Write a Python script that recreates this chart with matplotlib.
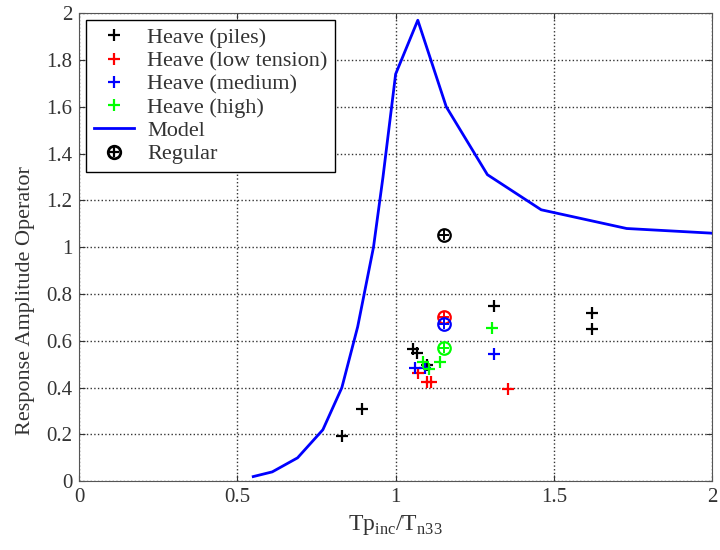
import numpy as np
import matplotlib.pyplot as plt
from matplotlib.lines import Line2D

plt.rcParams['font.family'] = ['Liberation Serif', 'DejaVu Serif']
plt.rcParams['mathtext.fontset'] = 'custom'
plt.rcParams['mathtext.rm'] = 'Liberation Serif'

# heave RAO measurements, by mooring configuration
piles_x = [0.832, 0.895, 1.056, 1.067, 1.100, 1.312, 1.620, 1.620]
piles_y = [0.192, 0.308, 0.563, 0.546, 0.496, 0.749, 0.717, 0.649]

low_x = [1.072, 1.098, 1.111, 1.356]
low_y = [0.461, 0.425, 0.425, 0.393]

med_x = [1.062, 1.093, 1.312]
med_y = [0.486, 0.485, 0.543]

high_x = [1.086, 1.107, 1.141, 1.306]
high_y = [0.510, 0.478, 0.508, 0.656]

# regular wave tests (piles, low tension, medium, high)
reg_x = [1.154, 1.154, 1.154, 1.154]
reg_y = [1.052, 0.703, 0.670, 0.570]
reg_colors = ['black', 'red', 'blue', 'lime']

# numerical model
model_x = [0.55, 0.61, 0.69, 0.77, 0.83, 0.88, 0.93, 0.96, 1.00, 1.07,
           1.16, 1.29, 1.46, 1.73, 2.00]
model_y = [0.02, 0.04, 0.10, 0.22, 0.40, 0.66, 1.00, 1.30, 1.74, 1.97,
           1.60, 1.31, 1.16, 1.08, 1.06]

fig = plt.figure(figsize=(7.2, 5.5), dpi=100)
ax = fig.add_axes([0.11, 0.125, 0.879, 0.851])

mk = dict(linestyle='none', marker='+', markersize=9, markeredgewidth=1.6)
ax.plot(piles_x, piles_y, color='black', **mk)
ax.plot(low_x, low_y, color='red', **mk)
ax.plot(med_x, med_y, color='blue', **mk)
ax.plot(high_x, high_y, color='lime', **mk)
ax.plot(model_x, model_y, color='blue', linewidth=2)

for x, y, c in zip(reg_x, reg_y, reg_colors):
    ax.plot(x, y, linestyle='none', marker='o', markersize=9,
            markerfacecolor='none', markeredgecolor=c, markeredgewidth=1.6)
    ax.plot(x, y, linestyle='none', marker='+', markersize=7,
            color=c, markeredgewidth=1.4)

ax.set_xlim(0, 2)
ax.set_ylim(0, 2)
ax.set_xticks([0, 0.5, 1, 1.5, 2])
ax.set_xticklabels(['0', '0.5', '1', '1.5', '2'])
ax.set_yticks(np.arange(0, 2.01, 0.2))
ax.set_yticklabels(['0', '0.2', '0.4', '0.6', '0.8', '1', '1.2', '1.4',
                    '1.6', '1.8', '2'])
ax.tick_params(direction='in', length=4, labelsize=15, colors='#333333',
               top=True, right=True)
ax.tick_params(axis='y', pad=5)
ax.tick_params(axis='x', pad=5)
for s in ax.spines.values():
    s.set_color('#555555')
ax.grid(True, linestyle=':', color='#333333', linewidth=1)

ax.set_xlabel(r'Tp$_{\rm inc}$/T$_{\rm n33}$', fontsize=17, color='#333333',
              labelpad=4)
ax.set_ylabel('Response Amplitude Operator', fontsize=16, color='#333333')
ax.yaxis.set_label_coords(-0.07, 0.385)

handles = [
    Line2D([], [], color='black', **mk),
    Line2D([], [], color='red', **mk),
    Line2D([], [], color='blue', **mk),
    Line2D([], [], color='lime', **mk),
    Line2D([], [], color='blue', linewidth=2),
    (Line2D([], [], linestyle='none', marker='o', markersize=9,
            markerfacecolor='none', markeredgecolor='black', markeredgewidth=2),
     Line2D([], [], linestyle='none', marker='+', markersize=7,
            color='black', markeredgewidth=1.6)),
]
labels = ['Heave (piles)', 'Heave (low tension)', 'Heave (medium)',
          'Heave (high)', 'Model', 'Regular']
leg = ax.legend(handles, labels, loc='upper left', fontsize=16,
                fancybox=False, edgecolor='black', framealpha=1,
                borderaxespad=0.3, handlelength=1.8, handletextpad=0.6,
                labelspacing=0.12, borderpad=0.35)
leg.get_frame().set_linewidth(1)
for t in leg.get_texts():
    t.set_color('#333333')

fig.savefig('out.png', dpi=100)
